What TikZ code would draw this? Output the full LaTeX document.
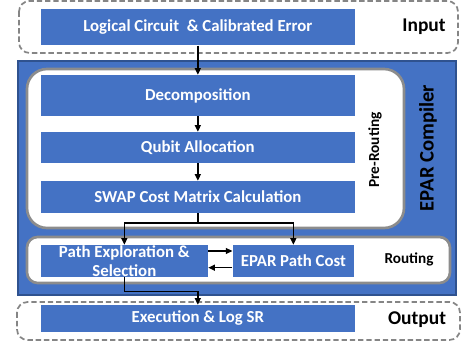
\documentclass[tikz,border=0pt]{standalone}
\usepackage{fontspec}
\setmainfont{Carlito}
\usetikzlibrary{arrows.meta}
\definecolor{blk}{HTML}{4472C4}
\definecolor{blkdark}{HTML}{2F528F}
\definecolor{frame}{HTML}{8C8C8C}
\begin{document}
\begin{tikzpicture}[x=0.75pt,y=-0.75pt,
  box/.style={fill=blk,text=white,font=\bfseries\fontsize{12.6}{14}\selectfont,
    inner sep=0pt,align=center,minimum width=235.7pt},
  tag/.style={font=\bfseries\fontsize{14.6}{16}\selectfont},
  arr/.style={line width=1.1pt,-{Triangle[length=5pt,width=4.5pt]}}]
\def\inputbox{(19,1) rectangle (458,53)}
\def\outputbox{(17,302) rectangle (460,340)}
\def\compilerbox{(18,61) rectangle (456,295)}
\def\prebox{(27,69) rectangle (404,228)}
\def\routebox{(27,237) rectangle (450,283)}
\useasboundingbox (0,0) rectangle (461,345);

% frames
\draw[frame!95!black,dashed,dash pattern=on 4pt off 2.2pt,line width=1.3pt,rounded corners=8pt] \inputbox;
\draw[frame!95!black,dashed,dash pattern=on 4pt off 2.2pt,line width=1.3pt,rounded corners=8pt] \outputbox;
\draw[blkdark,fill=blk,line width=2pt] \compilerbox;
\draw[frame,fill=white,line width=2pt,rounded corners=15pt] \prebox;
\draw[frame,fill=white,line width=2pt,rounded corners=8pt] \routebox;

% steps
\node[box,minimum height=27pt] (logic) at (197.85,27.3) {Logical Circuit~ \& Calibrated Error};
\node[box,minimum height=30.75pt] (decomp) at (197.85,95.5) {Decomposition};
\node[box,minimum height=23.25pt] (alloc) at (197.85,147.5) {Qubit Allocation};
\node[box,minimum height=24pt] (swap) at (197.85,197) {SWAP Cost Matrix Calculation};
\node[box,minimum width=125.5pt,minimum height=24pt] (path) at (124.35,261) {Path Exploration \&\\Selection};
\node[box,minimum width=91pt,minimum height=24pt] (cost) at (293.35,261) {EPAR Path Cost};
\node[box,minimum height=20pt] (exec) at (197.85,318.3) {Execution \& Log SR};

% labels
\node[tag] (inlbl) at (424,27) {Input};
\node[tag] (outlbl) at (417,320) {Output};
\node[font=\bfseries\fontsize{15.5}{17}\selectfont,rotate=90] (epar) at (428,148) {EPAR Compiler};
\node[font=\bfseries\fontsize{11.5}{13}\selectfont,rotate=90] (prelbl) at (375,150) {Pre-Routing};
\node[font=\bfseries\fontsize{11.4}{13}\selectfont] (routelbl) at (409,259) {Routing};

% flow
\draw[arr] (logic) -- (decomp);
\draw[arr] (decomp) -- (alloc);
\draw[arr] (alloc) -- (swap);
\draw[arr] (swap.south) -- ++(0,9.7) coordinate (split) -| (path.north);
\draw[arr] (split) -| (cost.north);
\draw[arr] ([yshift=7.5pt]path.east) -- ([yshift=7.5pt]cost.west);
\draw[arr] ([yshift=-5pt]cost.west) -- ([yshift=-5pt]path.east);
\draw[arr] (path.south) -- ++(0,14) -| (exec.north);
\end{tikzpicture}
\end{document}
